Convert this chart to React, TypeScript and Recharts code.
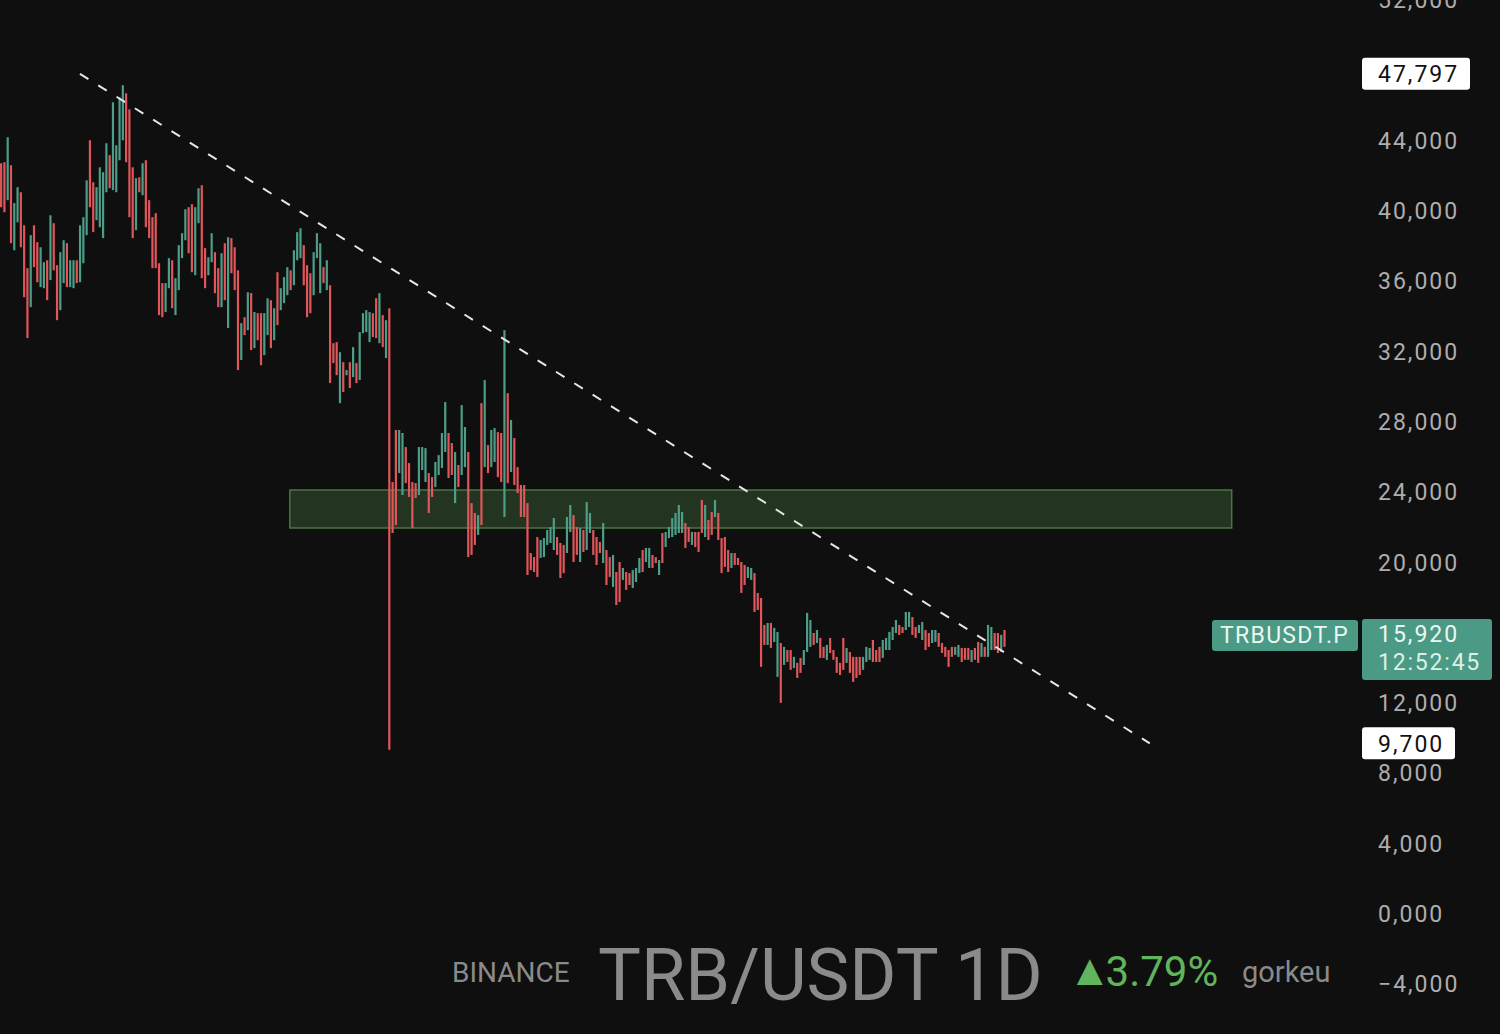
import React from 'react';
import { ComposedChart, Bar, Cell, XAxis, YAxis, ReferenceLine, ReferenceArea } from 'recharts';

// daily candles, oldest first (TRB/USDT perp, price axis as shown on the chart)
const highs = [
  42710, 42770, 44190, 42600, 40440, 41350, 41060, 39180, 36740, 38620,
  39180, 38220, 37930, 37080, 37190, 39750, 39300, 36910, 37650, 38330,
  38160, 37190, 37190, 37190, 39180, 39640, 41740, 44020, 41630, 41350,
  42480, 42200, 43850, 43170, 46180, 43730, 46460, 47150, 46690, 45780,
  42480, 41860, 41910, 42710, 42880, 40610, 39640, 39870, 37020, 35890,
  35890, 37310, 37190, 36170, 38050, 38730, 40090, 40210, 40380, 40210,
  41290, 41460, 37880, 37360, 38730, 37650, 36740, 37590, 38160, 38500,
  38450, 37930, 36620, 33610, 33950, 35370, 35320, 34240, 34180, 34180,
  34180, 35030, 34920, 34460, 36510, 35600, 36230, 36800, 36620, 37760,
  38790, 39010, 38050, 36910, 36450, 37650, 38730, 38160, 36800, 37190,
  35770, 32470, 32530, 31960, 31390, 30940, 31390, 32250, 31340, 33100,
  34180, 34350, 34240, 34180, 35030, 35320, 34070, 33780, 34460, 24570,
  27530, 27530, 27360, 26560, 25650, 24570, 24510, 26560, 26560, 26500,
  25080, 24850, 25710, 26100, 27360, 29120, 27360, 26790, 26280, 25540,
  28950, 27700, 26280, 23370, 22810, 22690, 29060, 30370, 26670, 27530,
  27640, 27410, 27360, 33210, 29630, 28100, 27070, 25420, 24400, 24400,
  23370, 20530, 20300, 21440, 21270, 21380, 21840, 22010, 22520, 21440,
  21100, 20990, 22580, 23260, 22690, 22010, 21950, 21840, 23430, 22810,
  21840, 21440, 21160, 22240, 20700, 20300, 20420, 19450, 20020, 19680,
  19450, 19390, 19560, 19680, 20250, 20700, 20820, 20820, 20420, 20300,
  20130, 21670, 21730, 22010, 22520, 22810, 23260, 22860, 22240, 22010,
  21730, 21730, 21730, 23550, 23260, 22410, 22860, 23550, 22810, 21380,
  21440, 20700, 20530, 20530, 20250, 20020, 19850, 19740, 19680, 19390,
  18260, 17970, 16440, 16550, 16550, 16270, 16040, 15410, 15190, 15010,
  15010, 14620, 14280, 14560, 15010, 17120, 16720, 15980, 16150, 15700,
  15190, 15300, 15700, 15010, 14620, 14280, 15700, 15130, 14900, 14620,
  14620, 14620, 14620, 15190, 15130, 15580, 15010, 15190, 15580, 15700,
  16040, 16320, 16720, 16440, 16320, 17180, 17180, 16890, 16320, 16440,
  16610, 16150, 15980, 16150, 16150, 15980, 15410, 15190, 15010, 15190,
  15190, 15300, 15130, 15130, 15130, 15010, 15130, 15470, 15410, 15190,
  16440, 16320, 15980, 15980, 15870, 16150,
];

const lows = [
  40210, 39920, 40610, 38160, 37760, 39350, 37930, 35090, 32760, 34520,
  36800, 35940, 35660, 35600, 34920, 36060, 36620, 33780, 34350, 35890,
  35660, 35660, 35600, 35890, 35940, 37020, 38620, 40210, 38790, 39470,
  39070, 38450, 41060, 41290, 41180, 41060, 42880, 44020, 42770, 39640,
  38450, 38900, 41060, 40890, 39070, 38450, 36740, 36740, 34070, 33950,
  34240, 35600, 34460, 34070, 35490, 37310, 38330, 37590, 36510, 36340,
  39300, 36170, 35600, 36340, 37080, 35320, 34520, 34520, 34920, 33330,
  36450, 35490, 30940, 31510, 32930, 33210, 32080, 32190, 32640, 31220,
  31790, 32930, 32190, 32640, 33500, 34350, 34750, 35200, 35490, 35770,
  37190, 37310, 35770, 33950, 34180, 35200, 37310, 35320, 35890, 35490,
  30200, 31340, 30650, 29060, 29690, 30650, 29920, 30540, 30200, 30370,
  33040, 33100, 32530, 32820, 32760, 32470, 32250, 31620, 9330, 21670,
  22120, 25080, 23830, 24510, 23720, 21950, 23660, 23830, 25250, 24570,
  22810, 23720, 24280, 24970, 25370, 26280, 24800, 24970, 23370, 24280,
  24970, 25420, 20300, 20420, 20990, 21560, 22120, 25420, 25080, 25420,
  25710, 24850, 24570, 22580, 24510, 25140, 24400, 23940, 22580, 22580,
  19280, 19560, 19450, 19170, 20250, 20300, 20990, 21100, 20700, 20420,
  19110, 19390, 20530, 21730, 20020, 20420, 20020, 20590, 20700, 21670,
  20420, 19850, 20530, 19960, 18710, 19170, 18600, 17570, 17740, 19000,
  18430, 18710, 18540, 18880, 19390, 19450, 20020, 19680, 19680, 19960,
  19280, 19960, 20870, 21380, 21440, 21560, 21670, 21670, 20820, 21160,
  20990, 20870, 20590, 21670, 21440, 21270, 21560, 22580, 21270, 19390,
  19740, 19450, 19680, 19850, 19850, 18260, 18710, 19110, 19000, 17180,
  17290, 14050, 15300, 15300, 15130, 15470, 13480, 12000, 14160, 14330,
  13880, 13990, 13420, 13710, 14160, 14900, 15190, 15300, 15410, 14560,
  14560, 14450, 14840, 14450, 13710, 13590, 13880, 14280, 13710, 13200,
  13420, 13590, 13880, 14330, 14450, 14330, 14330, 14330, 14560, 15010,
  15010, 15580, 15980, 15870, 15980, 16150, 16320, 15870, 15700, 15980,
  15580, 15010, 15190, 15410, 15470, 15190, 14840, 14620, 14050, 14620,
  14730, 14620, 14330, 14450, 14450, 14330, 14450, 14280, 14620, 14620,
  14620, 15010, 15010, 14840, 14900, 15190,
];

// u = closed up, d = closed down
const candleDir = (
  'dduduudddu dduududduu duuduuuddu uuuduuuudd dududddddd ' +
  'uuduuuuddu uddu uddudu dddudududd uududuuuduu uddduuudud ' +
  'ddudududuu uuddududdd uudddduuud duuuuddudu udddudud uu ' +
  'ddududdddd ddduuuuudd duuddudu ud ddudduddud duuuduudd u ' +
  'duuuuuuddu dddudduddd dudddduudd ddudu udu dd uddu uudu dd ' +
  'udddddu ddd duuuddduuu uuddu uddu u dduudddddu uddduddudu ' +
  'uddudu'
).replace(/ /g, '').split('');

const yTicks = [-4000, 0, 4000, 8000, 12000, 20000, 24000, 28000, 32000, 36000, 40000, 44000, 52000];

// trend line drawn on the chart (bar index, price)
const trendStart = { x: 24.1, y: 47797 };
const trendEnd = { x: 349.3, y: 9700 };

// support/resistance zone
const zone = { x1: 87.9, x2: 374.2, y1: 21950, y2: 24110 };

const lastPrice = 15920;
const countdown = '12:52:45';
const symbol = 'TRBUSDT.P';

const UP = '#4d9e89';
const DOWN = '#e0565a';
const TAG_GREEN = '#4a9a85';
const BG = '#0f0f0f';
const FONT = 'Roboto, "Noto Sans", sans-serif';

const candles = highs.map((h, i) => ({
  i,
  range: [lows[i], h],
  up: candleDir[i] === 'u',
}));

const fmtTick = (v: number) => {
  if (v === 0) return '0,000';
  if (v < 0) return '\u2212' + Math.abs(v).toLocaleString('en-US');
  return v.toLocaleString('en-US');
};

const WhiteTag = ({ viewBox, text, w }: any) => {
  const x = viewBox.x + viewBox.width + 2;
  const y = viewBox.y;
  return (
    <g>
      <rect x={x} y={y - 16} width={w} height={32} rx={3} fill="#ffffff" />
      <text x={x + 16} y={y} dy="0.36em" fill="#111" fontSize={23} letterSpacing={2} fontFamily={FONT}>
        {text}
      </text>
    </g>
  );
};

const LastPriceTag = ({ viewBox }: any) => {
  const right = viewBox.x + viewBox.width;
  const y = viewBox.y;
  return (
    <g>
      <rect x={right - 148} y={y - 14} width={146} height={31} rx={3} fill={TAG_GREEN} />
      <text x={right - 140} y={y + 1} dy="0.36em" fill="#eef6f3" fontSize={23} letterSpacing={1.3} fontFamily={FONT}>
        {symbol}
      </text>
      <rect x={right + 2} y={y - 15} width={130} height={61} rx={3} fill={TAG_GREEN} />
      <text x={right + 18} y={y} dy="0.36em" fill="#eef6f3" fontSize={23} letterSpacing={2} fontFamily={FONT}>
        {lastPrice.toLocaleString('en-US')}
      </text>
      <text x={right + 18} y={y + 28} dy="0.36em" fill="#dcefe9" fontSize={23} letterSpacing={1.8} fontFamily={FONT}>
        {countdown}
      </text>
    </g>
  );
};

export default function App() {
  return (
    <div style={{ position: 'absolute', left: 0, top: 0, width: 1500, height: 1034, background: BG, overflow: 'hidden' }}>
      <ComposedChart
        width={1500}
        height={1034}
        data={candles}
        margin={{ top: 0, right: 0, bottom: 0, left: 0 }}
      >
        <XAxis dataKey="i" type="number" domain={[-0.2, 413.2]} allowDataOverflow hide />
        <YAxis
          orientation="right"
          width={140}
          type="number"
          domain={[-6840, 52000]}
          allowDataOverflow
          ticks={yTicks}
          interval={0}
          tickFormatter={fmtTick}
          axisLine={false}
          tickLine={false}
          tickSize={0}
          tickMargin={18}
          tick={{ fill: '#adadad', fontSize: 23, fontFamily: FONT, letterSpacing: 2, textAnchor: 'start' }}
        />
        <ReferenceArea
          x1={zone.x1}
          x2={zone.x2}
          y1={zone.y1}
          y2={zone.y2}
          fill="#263a23"
          fillOpacity={0.9}
          stroke="#4b7544"
          strokeWidth={1.5}
        />
        <Bar dataKey="range" barSize={2.2} isAnimationActive={false}>
          {candles.map((c) => (
            <Cell key={c.i} fill={c.up ? UP : DOWN} />
          ))}
        </Bar>
        <ReferenceLine
          segment={[trendStart, trendEnd]}
          stroke="#e6e6e6"
          strokeWidth={2}
          strokeDasharray="10 11.6"
          ifOverflow="visible"
        />
        <ReferenceLine y={trendStart.y} stroke="none" label={(p: any) => <WhiteTag {...p} text="47,797" w={108} />} />
        <ReferenceLine y={trendEnd.y} stroke="none" label={(p: any) => <WhiteTag {...p} text="9,700" w={93} />} />
        <ReferenceLine y={lastPrice} stroke="none" label={(p: any) => <LastPriceTag {...p} />} />
      </ComposedChart>
      <svg
        width={1500}
        height={1034}
        style={{ position: 'absolute', left: 0, top: 0, pointerEvents: 'none' }}
      >
        <text x={452} y={982} fill="#8a8a8a" fontSize={28} fontFamily={FONT}>BINANCE</text>
        <text x={598} y={1000} fill="#8a8a8a" fontSize={72} fontFamily={FONT}>TRB/USDT 1D</text>
        <text x={1068} y={986} fill="#62b45c" fontFamily={FONT}>
          <tspan fontSize={44} dy={-1}>▲</tspan>
          <tspan fontSize={42} dy={1} dx={-6}>3.79%</tspan>
        </text>
        <text x={1242} y={982} fill="#8a8a8a" fontSize={29} fontFamily={FONT}>gorkeu</text>
      </svg>
    </div>
  );
}
